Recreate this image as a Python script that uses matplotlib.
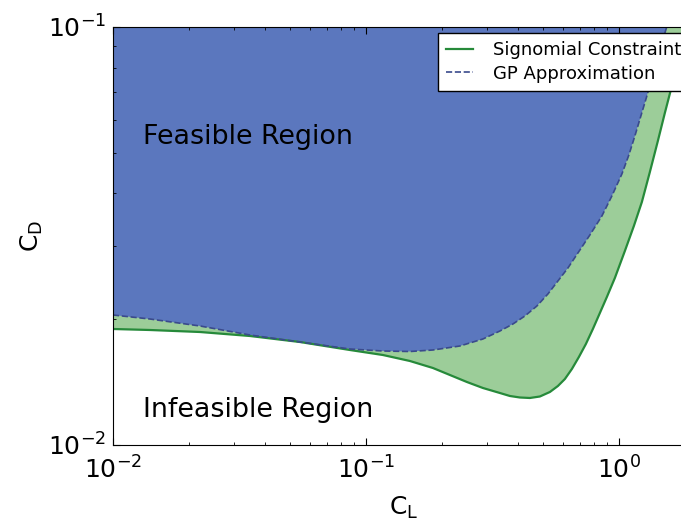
import matplotlib
matplotlib.use("Agg")
import matplotlib.pyplot as plt
from matplotlib.ticker import NullFormatter

# signomial constraint boundary (CL, CD)
sig_cl = [0.01, 0.014, 0.02208, 0.03479, 0.05483, 0.08645, 0.11674, 0.14925,
          0.18402, 0.21483, 0.25072, 0.29007, 0.33859, 0.37088, 0.40617, 0.44486,
          0.48726, 0.53374, 0.57408, 0.61180, 0.65205, 0.69494, 0.74066, 0.78933,
          0.84123, 0.89657, 0.96425, 1.0561, 1.1463, 1.2330, 1.3260, 1.4261,
          1.5199, 1.6198, 1.7267, 1.8402, 1.8740]
sig_cd = [0.018946, 0.018842, 0.018635, 0.018230, 0.017636, 0.016876, 0.016417, 0.015884,
          0.015283, 0.014705, 0.014149, 0.013689, 0.013317, 0.013099, 0.012991, 0.012956,
          0.013063, 0.013391, 0.013840, 0.014384, 0.015199, 0.016237, 0.017443, 0.018946,
          0.020691, 0.022600, 0.025091, 0.029114, 0.033411, 0.038133, 0.044977, 0.053367,
          0.062277, 0.072237, 0.083823, 0.097284, 0.10167]

# GP approximation boundary (CL, CD)
gp_cl = [0.01, 0.014, 0.02208, 0.03479, 0.05483, 0.08645, 0.11674, 0.14925,
         0.18402, 0.23523, 0.29007, 0.33859, 0.38115, 0.42507, 0.47413, 0.52412,
         0.57408, 0.62874, 0.68863, 0.76808, 0.85668, 0.93830, 1.0277, 1.0953,
         1.1568, 1.2218, 1.2904, 1.3503, 1.4132, 1.4790, 1.5762]
gp_cd = [0.020464, 0.020018, 0.019262, 0.018330, 0.017636, 0.016969, 0.016783, 0.016737,
         0.016876, 0.017252, 0.017930, 0.018738, 0.019475, 0.020351, 0.021506, 0.022976,
         0.024680, 0.026508, 0.028795, 0.031798, 0.035300, 0.039421, 0.044485, 0.049403,
         0.054857, 0.061256, 0.068393, 0.075489, 0.083366, 0.091569, 0.10393]

plt.rcParams["font.family"] = "DejaVu Sans"
plt.rcParams["axes.unicode_minus"] = False
plt.rcParams["mathtext.default"] = "regular"

fig = plt.figure(figsize=(6.81, 5.24), dpi=100)
ax = fig.add_axes([113 / 681, 79 / 524, 582 / 681, 418 / 524])

GREEN_FILL = "#9ccd99"
GREEN_LINE = "#268a3a"
BLUE_FILL = "#5b77be"
BLUE_LINE = "#3a4a8c"

ax.fill_between(sig_cl, sig_cd, 1, color=GREEN_FILL, lw=0)
ax.fill_between(gp_cl, gp_cd, 1, color=BLUE_FILL, lw=0)
ax.plot(sig_cl, sig_cd, color=GREEN_LINE, lw=1.6, label="Signomial Constraint")
ax.plot(gp_cl, gp_cd, color=BLUE_LINE, lw=1.2, ls="--", label="GP Approximation")

ax.set_xscale("log")
ax.set_yscale("log")
ax.set_xlim(0.01, 2.0)
ax.set_ylim(0.01, 0.1)
ax.xaxis.set_minor_formatter(NullFormatter())
ax.yaxis.set_minor_formatter(NullFormatter())

ax.tick_params(which="both", direction="in", top=True, right=True, labelsize=18)
ax.tick_params(which="major", length=5, pad=8)
ax.tick_params(which="minor", length=2.5)
ax.tick_params(axis="y", pad=5)

ax.set_xlabel("C$_\\mathrm{L}$", fontsize=18, labelpad=8)
ax.set_ylabel("C$_\\mathrm{D}$", fontsize=18)
ax.yaxis.set_label_coords(-0.117, 0.5)

ax.text(0.01314, 0.05453, "Feasible Region", fontsize=19.4, va="center")
ax.text(0.01314, 0.01213, "Infeasible Region", fontsize=19.4, va="center")

leg = ax.legend(loc="upper left", bbox_to_anchor=(438 / 681, 1 - 33 / 524),
                bbox_transform=fig.transFigure, fontsize=13, fancybox=False,
                borderaxespad=0, borderpad=0.45, handlelength=1.5,
                handletextpad=1.1, labelspacing=0.3, framealpha=1)
leg.get_frame().set_edgecolor("black")

fig.savefig("out.png", dpi=100)
